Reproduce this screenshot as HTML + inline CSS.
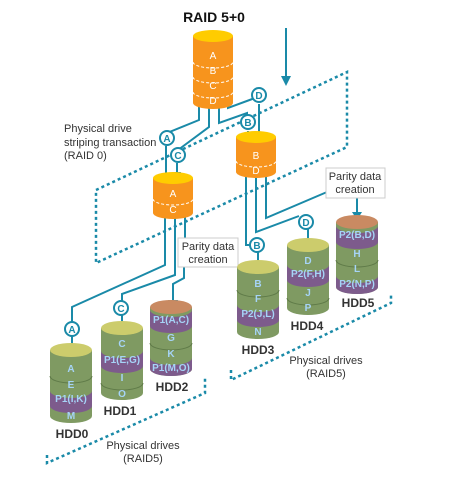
<!DOCTYPE html>
<html><head><meta charset="utf-8"><style>
html,body{margin:0;padding:0;background:#fff;}
svg{display:block;}
text{font-family:"Liberation Sans",sans-serif;}
.lbl{fill:#a6d4f7;font-size:10px;text-anchor:middle;font-weight:bold;}
.wl{fill:#fff;font-size:10px;text-anchor:middle;}
.hdd{fill:#333;font-size:12px;font-weight:bold;text-anchor:middle;}
.t{fill:#333;font-size:11px;}
.ln{fill:none;stroke:#1a8aa8;stroke-width:2;}
.sep{fill:none;stroke:#5f7a48;stroke-width:1;}
.dash{fill:none;stroke:#fff;stroke-width:1;stroke-dasharray:3,2;}
.dot{fill:none;stroke:#1a8aa8;stroke-width:2.5;stroke-dasharray:3,3;}
.cir{fill:#fff;stroke:#1a8aa8;stroke-width:2;}
.ct{fill:#1a8aa8;font-size:10px;font-weight:bold;text-anchor:middle;}
.box{fill:#fff;stroke:#ccc;stroke-width:1;}
</style></head><body>
<svg width="455" height="480" viewBox="0 0 455 480" xmlns="http://www.w3.org/2000/svg">

<!-- RAID0 dashed region -->
<polygon points="96,190 347,72 347,147 96,263" fill="#e6f2f9" class="dot"/>
<text x="214" y="22" font-size="14" font-weight="bold" text-anchor="middle" fill="#111" style="font-family:'Liberation Sans',sans-serif">RAID 5+0</text>
<text class="t" x="64" y="132">Physical drive</text>
<text class="t" x="64" y="146">striping transaction</text>
<text class="t" x="64" y="159">(RAID 0)</text>

<!-- incoming arrow -->
<line x1="286" y1="28" x2="286" y2="78" class="ln"/>
<path d="M281,76 L291,76 L286,86 Z" fill="#1a8aa8"/>

<!-- connectors from top cylinder -->
<path class="ln" d="M199,100 L199,120 L167,133"/>
<path class="ln" d="M209,100 L209,127 L178,150"/>
<path class="ln" d="M219,100 L219,123 L247,113 L247,118"/>
<path class="ln" d="M228,100 L228,108 L255,98"/>
<!-- connectors from A/C -->
<path class="ln" d="M165,213 L165,265 L72,307 L72,322"/>
<path class="ln" d="M175,213 L175,275 L122,294 L122,301"/>
<path class="ln" d="M185,213 L185,238"/>
<path class="ln" d="M184,267 L184,278 L173,284 L173,300"/>
<!-- connectors from B/D -->
<path class="ln" d="M246,172 L246,245 L250,245"/>
<path class="ln" d="M256,172 L256,232 L299,216"/>
<path class="ln" d="M266,172 L266,218 L327,192"/>
<path class="ln" d="M357,198 L357,212"/>

<!-- arrowheads -->
<g fill="#1a8aa8">
<path d="M162,174 L171,174 L166,182 Z"/>
<path d="M172,172 L181,172 L176,180 Z"/>
<path d="M244,136 L253,136 L248,144 Z"/>
<path d="M255,134 L264,134 L259,142 Z"/>
<path d="M67,347 L77,347 L72,355 Z"/>
<path d="M117,324 L127,324 L122,332 Z"/>
<path d="M168,300 L178,300 L173,308 Z"/>
<path d="M253,261 L263,261 L258,269 Z"/>
<path d="M303,239 L313,239 L308,247 Z"/>
<path d="M352,212 L362,212 L357,220 Z"/>
</g>
<line class="ln" x1="166" y1="146" x2="166" y2="176"/>
<line class="ln" x1="177" y1="163" x2="177" y2="174"/>
<line class="ln" x1="248" y1="131" x2="248" y2="138"/>
<line class="ln" x1="259" y1="104" x2="259" y2="136"/>
<line class="ln" x1="72" y1="336" x2="72" y2="349"/>
<line class="ln" x1="122" y1="315" x2="122" y2="326"/>
<line class="ln" x1="258" y1="252" x2="258" y2="263"/>
<line class="ln" x1="308" y1="229" x2="308" y2="241"/>

<!-- circles -->
<circle class="cir" cx="167" cy="138" r="7"/><text class="ct" x="167" y="142">A</text>
<circle class="cir" cx="178" cy="155" r="7"/><text class="ct" x="178" y="159">C</text>
<circle class="cir" cx="248" cy="122" r="7"/><text class="ct" x="248" y="126">B</text>
<circle class="cir" cx="259" cy="95" r="7"/><text class="ct" x="259" y="99">D</text>
<circle class="cir" cx="72" cy="329" r="7"/><text class="ct" x="72" y="333">A</text>
<circle class="cir" cx="121" cy="308" r="7"/><text class="ct" x="121" y="312">C</text>
<circle class="cir" cx="257" cy="245" r="7"/><text class="ct" x="257" y="249">B</text>
<circle class="cir" cx="306" cy="222" r="7"/><text class="ct" x="306" y="226">D</text>

<!-- parity boxes -->
<rect class="box" x="178" y="238" width="60" height="29"/>
<text class="t" x="208" y="250" text-anchor="middle">Parity data</text>
<text class="t" x="208" y="263" text-anchor="middle">creation</text>
<rect class="box" x="326" y="168" width="59" height="30"/>
<text class="t" x="355" y="180" text-anchor="middle">Parity data</text>
<text class="t" x="355" y="193" text-anchor="middle">creation</text>

<!-- orange cylinders -->
<g>
<path d="M193,36 L193,103 A20,6 0 0 0 233,103 L233,36 Z" fill="#f7941d"/>
<ellipse cx="213" cy="36" rx="20" ry="6" fill="#ffcc00"/>
<path class="dash" d="M193,62 A20,6 0 0 0 233,62 M193,77 A20,6 0 0 0 233,77 M193,92 A20,6 0 0 0 233,92"/>
<text class="wl" x="213" y="59">A</text><text class="wl" x="213" y="74">B</text><text class="wl" x="213" y="89">C</text><text class="wl" x="213" y="104">D</text>
</g>
<g>
<path d="M236,137 L236,172 A20,6 0 0 0 276,172 L276,137 Z" fill="#f7941d"/>
<ellipse cx="256" cy="137" rx="20" ry="6" fill="#ffcc00"/>
<path class="dash" d="M236,161 A20,6 0 0 0 276,161"/>
<text class="wl" x="256" y="159">B</text><text class="wl" x="256" y="174">D</text>
</g>
<g>
<path d="M153,178 L153,213 A20,6 0 0 0 193,213 L193,178 Z" fill="#f7941d"/>
<ellipse cx="173" cy="178" rx="20" ry="6" fill="#ffcc00"/>
<path class="dash" d="M153,199 A20,6 0 0 0 193,199"/>
<text class="wl" x="173" y="197">A</text><text class="wl" x="173" y="213">C</text>
</g>

<!-- HDD0 -->
<path d="M50,350 L50,416 A21,7 0 0 0 92,416 L92,350 Z" fill="#7f9a62"/>
<path d="M50,391 A21,7 0 0 0 92,391 L92,406 A21,7 0 0 1 50,406 Z" fill="#7d5b8c"/>
<path class="sep" d="M50,376 A21,7 0 0 0 92,376"/>
<ellipse cx="71" cy="350" rx="21" ry="7" fill="#cccc6c"/>
<text class="lbl" x="71" y="372">A</text><text class="lbl" x="71" y="388">E</text><text class="lbl" x="71" y="402">P1(I,K)</text><text class="lbl" x="71" y="419">M</text>
<text class="hdd" x="72" y="438">HDD0</text>
<!-- HDD1 -->
<path d="M101,328 L101,393 A21,7 0 0 0 143,393 L143,328 Z" fill="#7f9a62"/>
<path d="M101,351 A21,7 0 0 0 143,351 L143,366 A21,7 0 0 1 101,366 Z" fill="#7d5b8c"/>
<path class="sep" d="M101,383 A21,7 0 0 0 143,383"/>
<ellipse cx="122" cy="328" rx="21" ry="7" fill="#cccc6c"/>
<text class="lbl" x="122" y="347">C</text><text class="lbl" x="122" y="363">P1(E,G)</text><text class="lbl" x="122" y="381">I</text><text class="lbl" x="122" y="397">O</text>
<text class="hdd" x="120" y="415">HDD1</text>
<!-- HDD2 -->
<path d="M150,307 L150,369 A21,7 0 0 0 192,369 L192,307 Z" fill="#7f9a62"/>
<path d="M150,310 A21,7 0 0 0 192,310 L192,326 A21,7 0 0 1 150,326 Z" fill="#7d5b8c"/>
<path d="M150,358 L150,369 A21,7 0 0 0 192,369 L192,358 A21,7 0 0 1 150,358 Z" fill="#7d5b8c"/>
<path class="sep" d="M150,343 A21,7 0 0 0 192,343"/>
<ellipse cx="171" cy="307" rx="21" ry="7" fill="#c98a62"/>
<text class="lbl" x="171" y="323">P1(A,C)</text><text class="lbl" x="171" y="341">G</text><text class="lbl" x="171" y="357">K</text><text class="lbl" x="171" y="371">P1(M,O)</text>
<text class="hdd" x="172" y="391">HDD2</text>
<!-- HDD3 -->
<path d="M237,267 L237,332 A21,7 0 0 0 279,332 L279,267 Z" fill="#7f9a62"/>
<path d="M237,305 A21,7 0 0 0 279,305 L279,320 A21,7 0 0 1 237,320 Z" fill="#7d5b8c"/>
<path class="sep" d="M237,290 A21,7 0 0 0 279,290"/>
<ellipse cx="258" cy="267" rx="21" ry="7" fill="#cccc6c"/>
<text class="lbl" x="258" y="287">B</text><text class="lbl" x="258" y="302">F</text><text class="lbl" x="258" y="317">P2(J,L)</text><text class="lbl" x="258" y="335">N</text>
<text class="hdd" x="258" y="354">HDD3</text>
<!-- HDD4 -->
<path d="M287,245 L287,308 A21,7 0 0 0 329,308 L329,245 Z" fill="#7f9a62"/>
<path d="M287,265 A21,7 0 0 0 329,265 L329,280 A21,7 0 0 1 287,280 Z" fill="#7d5b8c"/>
<path class="sep" d="M287,298 A21,7 0 0 0 329,298"/>
<ellipse cx="308" cy="245" rx="21" ry="7" fill="#cccc6c"/>
<text class="lbl" x="308" y="264">D</text><text class="lbl" x="308" y="277">P2(F,H)</text><text class="lbl" x="308" y="296">J</text><text class="lbl" x="308" y="311">P</text>
<text class="hdd" x="307" y="330">HDD4</text>
<!-- HDD5 -->
<path d="M336,222 L336,287 A21,7 0 0 0 378,287 L378,222 Z" fill="#7f9a62"/>
<path d="M336,226 A21,7 0 0 0 378,226 L378,242 A21,7 0 0 1 336,242 Z" fill="#7d5b8c"/>
<path d="M336,276 L336,287 A21,7 0 0 0 378,287 L378,276 A21,7 0 0 1 336,276 Z" fill="#7d5b8c"/>
<path class="sep" d="M336,260 A21,7 0 0 0 378,260"/>
<ellipse cx="357" cy="222" rx="21" ry="7" fill="#c98a62"/>
<text class="lbl" x="357" y="238">P2(B,D)</text><text class="lbl" x="357" y="257">H</text><text class="lbl" x="357" y="272">L</text><text class="lbl" x="357" y="287">P2(N,P)</text>
<text class="hdd" x="358" y="307">HDD5</text>

<!-- bottom brackets -->
<path class="dot" d="M47,455 L47,463 L205,393 L205,377"/>
<text class="t" x="143" y="449" text-anchor="middle">Physical drives</text>
<text class="t" x="143" y="462" text-anchor="middle">(RAID5)</text>
<path class="dot" d="M231,370 L231,380 L391,303 L391,294"/>
<text class="t" x="326" y="364" text-anchor="middle">Physical drives</text>
<text class="t" x="326" y="377" text-anchor="middle">(RAID5)</text>
</svg>
</body></html>
